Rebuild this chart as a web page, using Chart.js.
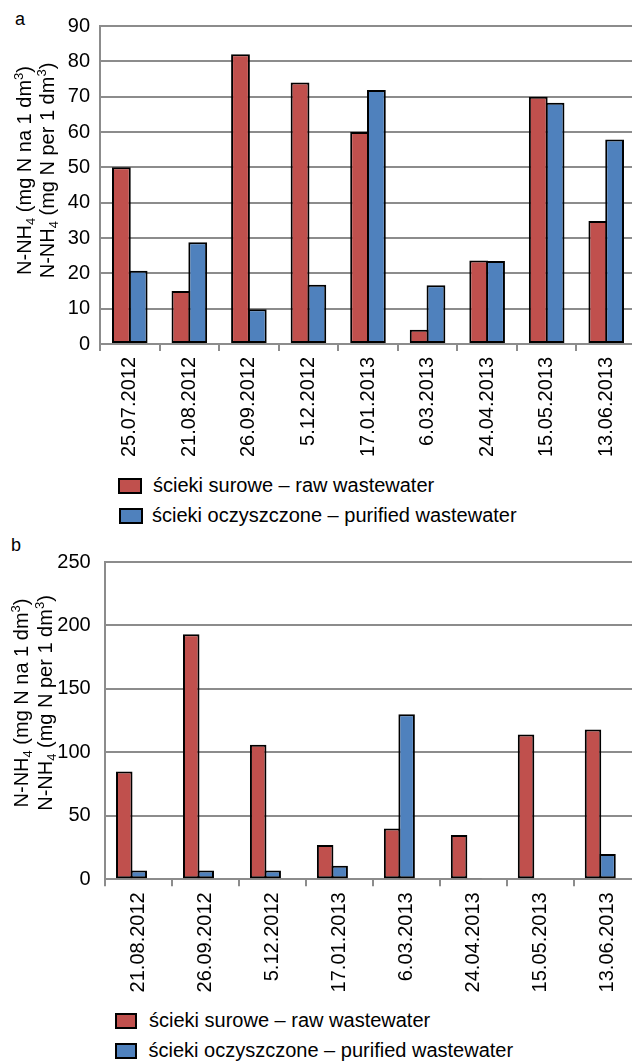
<!DOCTYPE html>
<html>
<head>
<meta charset="utf-8">
<script src="https://cdn.jsdelivr.net/npm/chart.js@4.4.1/dist/chart.umd.min.js"></script>
<style>
  html, body { margin: 0; padding: 0; background: #fff; }
  body { width: 632px; height: 1063px; overflow: hidden; position: relative;
         font-family: 'Liberation Sans', Arial, sans-serif; color: #000; }
  .panel { position: absolute; left: 0; }
  canvas { display: block; }
  .tag { position: absolute; font-size: 18px; line-height: 18px; }
  .key { position: absolute; box-sizing: border-box; border: 2px solid #000; }
  .txt { position: absolute; white-space: nowrap; font-size: 20px; line-height: 20px; }
</style>
</head>
<body>
<div class="tag" style="left:15px; top:10px;">a</div>
<div class="tag" style="left:11px; top:536px;">b</div>
<div class="panel" style="top:0;"><canvas id="chartA" width="640" height="470"></canvas></div>
<div class="panel" style="top:530px;"><canvas id="chartB" width="645" height="470"></canvas></div>
<div id="legendA"></div>
<div id="legendB"></div>

<script>
// Sampling dates, panel a
const datesA = ['25.07.2012', '21.08.2012', '26.09.2012', '5.12.2012', '17.01.2013',
                '6.03.2013', '24.04.2013', '15.05.2013', '13.06.2013'];
// N-NH4, panel a (mg N per 1 dm3)
const rawA      = [50, 15, 82, 74, 60, 4, 23.6, 70, 34.8];
const purifiedA = [20.7, 28.8, 9.8, 16.8, 71.9, 16.6, 23.5, 68.3, 57.9];
const yTicksA   = [0, 10, 20, 30, 40, 50, 60, 70, 80, 90];

// Sampling dates, panel b
const datesB = ['21.08.2012', '26.09.2012', '5.12.2012', '17.01.2013',
                '6.03.2013', '24.04.2013', '15.05.2013', '13.06.2013'];
// N-NH4, panel b (mg N per 1 dm3)
const rawB      = [85, 193, 106, 27, 40, 35, 114, 118];
const purifiedB = [7, 7, 7, 10.7, 130, 1, 0, 20];
const yTicksB   = [0, 50, 100, 150, 200, 250];

const seriesNames = ['ścieki surowe – raw wastewater', 'ścieki oczyszczone – purified wastewater'];
const seriesColors = ['#C0504D', '#4F81BD'];

// Axis caption, two lines with sub/superscripts
const captionLines = [
  [{ t: 'N-NH' }, { t: '4', sub: true }, { t: ' (mg N na 1 dm' }, { t: '3', sup: true }, { t: ')' }],
  [{ t: 'N-NH' }, { t: '4', sub: true }, { t: ' (mg N per 1 dm' }, { t: '3', sup: true }, { t: ')' }]
];

const FONT = "'Liberation Sans', Arial, sans-serif";
const GRID = '#8c8c8c';

Chart.defaults.font.family = FONT;
Chart.defaults.font.size = 20;
Chart.defaults.color = '#000';

const axisCaption = {
  id: 'axisCaption',
  afterDraw(chart, args, opts) {
    const ctx = chart.ctx;
    const fontFor = s => (s.sub || s.sup) ? `13px ${FONT}` : `20px ${FONT}`;
    ctx.save();
    ctx.fillStyle = '#000';
    ctx.textBaseline = 'alphabetic';
    ctx.textAlign = 'left';
    opts.lines.forEach((segs, i) => {
      let total = 0;
      const widths = segs.map(s => { ctx.font = fontFor(s); const w = ctx.measureText(s.t).width; total += w; return w; });
      ctx.save();
      ctx.translate(opts.baselines[i], opts.centerY);
      ctx.rotate(-Math.PI / 2);
      let x = -total / 2;
      segs.forEach((s, k) => {
        ctx.font = fontFor(s);
        const dy = s.sub ? 4 : (s.sup ? -8 : 0);
        ctx.fillText(s.t, x, dy);
        x += widths[k];
      });
      ctx.restore();
    });
    ctx.restore();
  }
};

function makeChart(id, labels, raw, purified, yTicks, cfg) {
  const datasets = [
    { label: seriesNames[0], data: raw, backgroundColor: seriesColors[0] },
    { label: seriesNames[1], data: purified, backgroundColor: seriesColors[1] }
  ];
  if (cfg.emptySeries) datasets.push({ label: '', data: labels.map(() => null), backgroundColor: 'transparent' });
  datasets.forEach(d => {
    d.borderColor = '#000';
    d.borderWidth = 2;
    d.borderSkipped = false;
    d.categoryPercentage = cfg.catPct;
    d.barPercentage = cfg.barPct;
  });
  return new Chart(document.getElementById(id), {
    type: 'bar',
    data: { labels, datasets },
    options: {
      responsive: false,
      animation: false,
      devicePixelRatio: 1,
      layout: { padding: { top: cfg.top, right: 4, left: 0, bottom: 0 } },
      plugins: {
        legend: { display: false },
        tooltip: { enabled: false },
        axisCaption: { lines: captionLines, baselines: cfg.captionX, centerY: cfg.captionY }
      },
      scales: {
        x: {
          offset: true,
          grid: { display: true, drawOnChartArea: false, drawTicks: true, tickLength: 7,
                  color: GRID, lineWidth: 2, offset: true },
          border: { display: true, color: GRID, width: 2 },
          ticks: { minRotation: 90, maxRotation: 90, autoSkip: false, padding: 6 },
          afterFit: s => { s.height = cfg.xHeight; }
        },
        y: {
          min: yTicks[0],
          max: yTicks[yTicks.length - 1],
          grid: { color: GRID, lineWidth: 2, drawTicks: false },
          border: { display: true, color: GRID, width: 2 },
          ticks: { padding: cfg.tickPad },
          afterBuildTicks: s => { s.ticks = yTicks.map(v => ({ value: v })); },
          afterFit: s => { s.width = cfg.yWidth; }
        }
      }
    },
    plugins: [axisCaption]
  });
}

makeChart('chartA', datesA, rawA, purifiedA, yTicksA, {
  top: 26, xHeight: 126, yWidth: 100, tickPad: 10,
  catPct: 0.564, barPct: 1.119, emptySeries: false,
  captionX: [30.7, 54], captionY: 170.5
});

makeChart('chartB', datesB, rawB, purifiedB, yTicksB, {
  top: 32, xHeight: 120.7, yWidth: 105.3, tickPad: 14.6,
  catPct: 0.65, barPct: 1.138, emptySeries: true,
  captionX: [28.3, 51.7], captionY: 173
});

// Legends listing the two series, one per row
function buildLegend(id, rows) {
  const host = document.getElementById(id);
  rows.forEach((r, i) => {
    const key = document.createElement('div');
    key.className = 'key';
    key.style.cssText = `left:${r.keyX}px; top:${r.keyY}px; width:${r.keyW}px; height:${r.keyH}px; background:${seriesColors[i]};`;
    const txt = document.createElement('div');
    txt.className = 'txt';
    txt.style.cssText = `left:${r.textX}px; top:${r.textY}px;`;
    txt.textContent = seriesNames[i];
    host.appendChild(key);
    host.appendChild(txt);
  });
}
buildLegend('legendA', [
  { keyX: 118, keyY: 477.5, keyW: 24, keyH: 16, textX: 153, textY: 474.8 },
  { keyX: 119, keyY: 508, keyW: 24, keyH: 16, textX: 152, textY: 505.4 }
]);
buildLegend('legendB', [
  { keyX: 115, keyY: 1013, keyW: 22, keyH: 15.5, textX: 149, textY: 1009.8 },
  { keyX: 115, keyY: 1043, keyW: 22, keyH: 15.5, textX: 148.5, textY: 1039.8 }
]);
</script>
</body>
</html>
